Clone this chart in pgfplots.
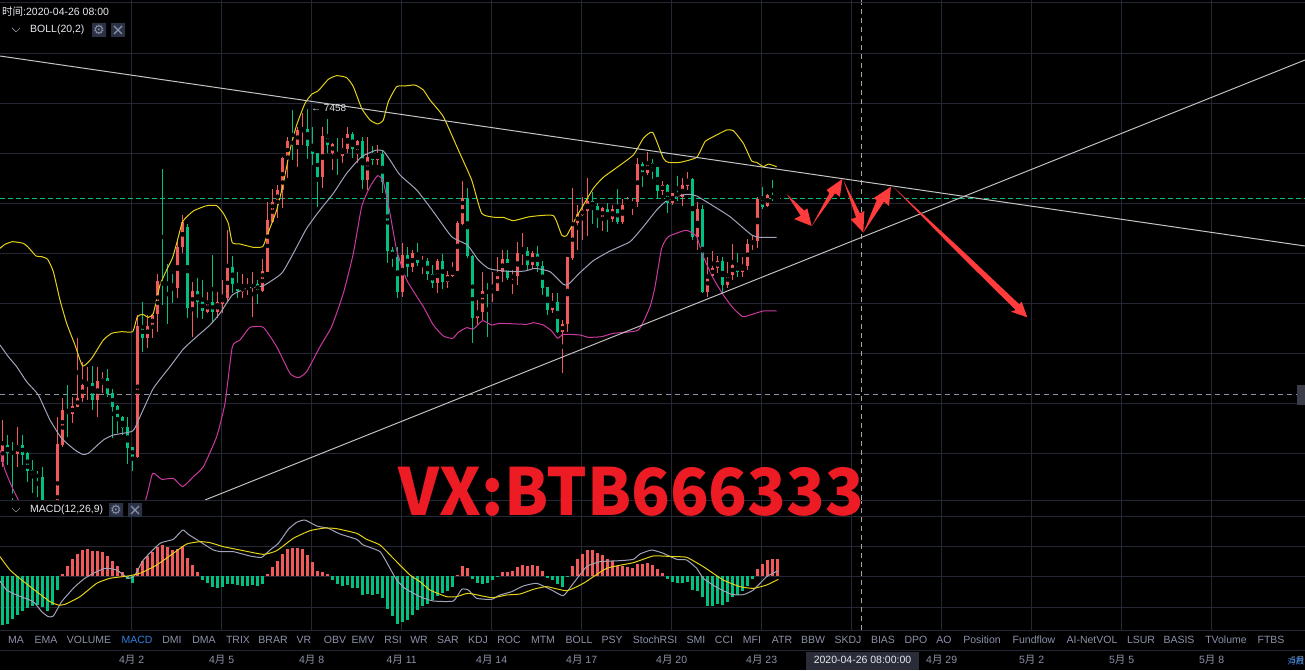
\documentclass[border=0pt]{standalone}
\usepackage{fontspec}
\setmainfont{Liberation Sans}
\newfontfamily\cjk{Noto Sans CJK SC}
\newfontfamily\sym{DejaVu Sans}
\usepackage{pgfplots}
\usepackage{pgfplotstable}
\pgfplotsset{compat=1.18}

\definecolor{gridc}{HTML}{242836}
\definecolor{upc}{HTML}{F05A5A}
\definecolor{downc}{HTML}{02C081}
\definecolor{bollup}{HTML}{E4D218}
\definecolor{bollmid}{HTML}{A0A4BA}
\definecolor{bolllow}{HTML}{C93A9E}
\definecolor{trend}{HTML}{C4C4C4}
\definecolor{arrowc}{HTML}{FF3B3B}
\definecolor{tabc}{HTML}{8C91A8}
\definecolor{btnc}{HTML}{2B3245}
\definecolor{bluec}{HTML}{2F7FE0}
\definecolor{datebox}{HTML}{2A2D38}
\definecolor{pricetag}{HTML}{3A3D48}
\definecolor{wmark}{HTML}{ED1C24}

% candles: index, wick top, wick bottom, body top, body bottom (screen units, 3 per pixel)
\pgfplotstableread{
k wt wb bt bb
0 1110 1250 1185 1235
3 1132 1250 1185 1212
11 1100 1500 1183 1500
12 1043 1190 1080 1185
14 1040 1120 1068 1092
15 865 1070 1045 1070
16 935 1055 1005 1045
17 950 1050 1000 1008
19 950 1100 993 1050
20 965 1030 985 997
27 795 1225 828 1222
29 795 895 828 863
30 795 865 795 830
31 672 845 693 792
35 570 743 590 713
36 495 610 515 592
38 695 860 723 773
41 725 790 757 787
43 727 805 757 787
44 690 790 740 762
45 540 755 652 745
48 672 745 712 725
49 683 735 710 718
50 665 800 703 713
52 627 725 663 722
53 455 665 510 665
54 418 520 455 515
55 405 505 420 460
56 320 475 325 420
57 260 385 272 328
59 230 352 240 285
60 190 285 238 243
64 232 415 258 380
66 280 360 283 308
68 263 338 295 318
69 230 310 252 298
71 270 340 272 312
73 262 420 320 390
75 285 345 312 330
80 578 742 615 725
82 600 665 610 650
84 618 673 633 638
87 628 728 633 698
89 663 713 675 695
90 635 680 660 677
91 512 663 518 663
92 393 525 445 522
95 750 825 783 803
96 665 810 723 785
98 665 755 720 728
99 622 723 665 722
100 600 695 627 667
102 660 732 675 685
103 575 705 610 677
104 550 645 603 610
106 602 658 610 645
110 728 790 755 780
112 810 970 822 847
113 620 845 622 823
114 415 630 515 623
115 465 600 492 520
116 440 570 480 495
117 385 558 453 482
120 470 542 475 505
122 465 515 478 508
124 448 522 465 517
125 440 470 462 467
126 445 495 455 465
127 325 470 342 455
129 305 375 340 368
132 392 435 405 422
134 428 465 428 460
136 385 467 405 440
137 365 420 390 407
139 455 600 477 560
141 620 740 675 725
142 602 680 653 678
143 617 670 633 653
145 637 715 673 705
146 583 690 645 675
148 620 680 645 667
149 568 660 582 648
150 555 600 570 583
151 440 593 447 572
153 433 470 435 467
}\upcandles
\pgfplotstableread{
k wt wb bt bb
1 1155 1245 1185 1210
2 1175 1500 1205 1212
4 1155 1245 1185 1215
5 1205 1295 1208 1262
6 1230 1328 1260 1275
7 1262 1340 1272 1283
8 1250 1500 1282 1500
13 1005 1160 1080 1092
18 948 1080 998 1050
21 957 1040 985 1033
22 1018 1165 1030 1070
23 1065 1150 1068 1103
24 1098 1155 1102 1135
25 1100 1243 1132 1193
26 1190 1262 1192 1222
28 755 907 828 863
32 357 765 695 705
33 643 822 697 705
34 672 760 702 712
37 522 805 530 773
39 685 805 723 755
40 690 808 753 783
42 615 820 757 787
46 618 730 652 703
47 665 745 700 723
51 690 762 703 722
58 180 330 272 285
61 178 327 238 288
62 230 345 285 312
63 308 470 310 380
65 207 310 258 285
67 265 375 305 318
70 245 325 252 298
72 262 418 272 390
74 288 345 312 330
76 300 430 312 395
77 395 640 397 602
78 590 650 600 622
79 592 743 620 725
81 590 680 615 650
83 580 647 610 638
85 625 690 633 673
86 645 715 672 698
88 612 718 633 695
93 415 625 445 618
94 615 880 617 803
97 698 860 723 728
101 600 690 627 683
105 590 660 603 645
107 587 665 612 647
108 632 735 647 713
109 710 795 712 780
111 728 850 755 847
118 425 522 453 470
119 460 535 468 505
121 460 545 478 507
123 418 522 477 515
128 335 410 342 368
130 328 388 340 353
131 350 448 352 422
133 402 490 405 458
135 378 452 428 440
138 385 570 388 560
140 465 728 478 725
144 620 730 633 705
147 608 680 645 667
152 412 478 445 470
154 390 452 435 447
155 437 450 442 445
}\downcandles

% MACD histogram: index, value
\pgfplotstableread{
k v
12 6
13 30
14 51
15 66
16 78
17 81
18 76
19 75
20 73
21 60
22 45
23 30
24 13
27 23
28 45
29 60
30 73
31 88
32 93
33 86
34 78
35 81
36 91
37 55
38 33
39 13
53 6
54 28
55 45
56 66
57 80
58 84
59 84
60 81
61 63
62 42
63 15
64 12
65 6
91 3
92 30
93 23
100 11
101 13
102 15
103 26
104 32
105 30
106 32
107 31
108 16
114 30
115 50
116 66
117 78
118 78
119 68
120 63
121 50
122 46
123 31
124 30
125 26
126 25
127 36
128 36
129 38
130 33
131 20
132 8
151 20
152 36
153 48
154 51
155 51
}\macdup
\pgfplotstableread{
k v
0 -147
1 -144
2 -130
3 -117
4 -104
5 -97
6 -89
7 -87
8 -92
9 -104
10 -87
11 -42
25 -8
26 -22
40 -12
41 -20
42 -32
43 -35
44 -34
45 -24
46 -24
47 -27
48 -30
49 -30
50 -27
51 -30
52 -24
66 -12
67 -24
68 -30
69 -27
70 -36
71 -36
72 -57
73 -54
74 -57
75 -54
76 -66
77 -99
78 -120
79 -144
80 -138
81 -132
82 -117
83 -102
84 -90
85 -84
86 -72
87 -60
88 -52
89 -44
90 -34
94 -8
95 -22
96 -24
97 -20
98 -12
99 -4
109 -5
110 -12
111 -24
112 -32
113 -4
133 -10
134 -17
135 -20
136 -20
137 -17
138 -42
139 -44
140 -62
141 -90
142 -90
143 -84
144 -87
145 -77
146 -64
147 -57
148 -44
149 -29
150 -10
}\macddown

\pgfplotsset{
  panel/.style={
    scale only axis, width=1305pt, xmin=0, xmax=3915,
    axis line style={draw=none}, major tick length=0pt,
    grid=major, grid style={gridc, line width=0.9pt},
    xtick={395,665,935,1205,1475,1745,2015,2285,2555,2825,3095,3365,3635},
    yticklabels={}, xticklabels={},
  },
  wick/.style={only marks, mark=none, forget plot,
    error bars/.cd, y dir=both, y explicit, error mark=none,
    error bar style={#1, line width=1pt}},
  body/.style={only marks, mark=none, forget plot,
    error bars/.cd, y dir=both, y explicit, error mark=none,
    error bar style={#1, line width=3.5pt}},
  bar/.style={ycomb, #1, line width=3.1pt, mark=none, forget plot},
  bline/.style={#1, line width=1pt, mark=none, line join=round, smooth, tension=0.3, forget plot},
  arrowfill/.style={fill=arrowc, draw=none, mark=none, forget plot},
}

\begin{document}
\begin{tikzpicture}[x=1pt,y=1pt]
\clip (0,0) rectangle (1305,670);
\fill[black] (0,0) rectangle (1305,670);

\begin{axis}[panel, at={(0,170pt)}, anchor=south west, height=500pt,
    y dir=reverse, ymin=-150, ymax=1350,
    ytick={10,160,310,460,610,760,910,1060,1210}]
% dashed price levels and crosshair
\addplot[downc, line width=0.9pt, dash pattern=on 5pt off 3pt, forget plot] coordinates {(0,446) (3915,446)};
\addplot[tabc, line width=0.8pt, dash pattern=on 5pt off 4pt, forget plot] coordinates {(0,1033) (3915,1033)};
\addplot[gray!70!white, line width=0.8pt, dash pattern=on 5pt off 4pt, forget plot] coordinates {(2585,-150) (2585,1350)};
% candles
\addplot[wick=upc] table[x expr=8+15*\thisrow{k}, y expr=(\thisrow{wt}+\thisrow{wb})/2, y error expr=(\thisrow{wb}-\thisrow{wt})/2] {\upcandles};
\addplot[wick=downc] table[x expr=8+15*\thisrow{k}, y expr=(\thisrow{wt}+\thisrow{wb})/2, y error expr=(\thisrow{wb}-\thisrow{wt})/2] {\downcandles};
\addplot[body=upc] table[x expr=8+15*\thisrow{k}, y expr=(\thisrow{bt}+\thisrow{bb})/2, y error expr=(\thisrow{bb}-\thisrow{bt})/2] {\upcandles};
\addplot[body=downc] table[x expr=8+15*\thisrow{k}, y expr=(\thisrow{bt}+\thisrow{bb})/2, y error expr=(\thisrow{bb}-\thisrow{bt})/2] {\downcandles};
% bollinger bands
\addplot[bline=bollup] coordinates {
(0,595) (15,583) (38,575) (70,580) (85,592) (108,618) (125,620) (143,628) (160,665) (180,750) (200,820) (225,885) (248,948) (275,925) (310,870) (335,850) (365,845) (398,845) (412,800) (428,793) (445,802) (460,790) (480,705) (500,660) (517,625) (530,580) (548,515) (580,483) (620,467) (650,467) (670,490) (685,520) (697,578) (720,582) (760,592) (788,590) (800,560) (830,480) (850,400) (870,300) (890,225) (915,160) (935,133) (955,122) (985,88) (1010,77) (1040,83) (1060,110) (1085,175) (1110,210) (1133,222) (1150,210) (1165,155) (1190,110) (1215,108) (1245,105) (1270,120) (1290,150) (1330,200) (1375,300) (1415,390) (1445,490) (1485,502) (1510,502) (1540,512) (1590,500) (1660,497) (1685,555) (1700,557) (1730,500) (1780,415) (1810,382) (1840,360) (1900,315) (1930,265) (1958,247) (1990,325) (2005,337) (2040,337) (2090,322) (2115,275) (2140,260) (2180,240) (2200,242) (2230,280) (2255,333) (2270,337) (2290,350) (2305,342) (2330,350)};
\addplot[bline=bollmid] coordinates {
(0,885) (25,920) (50,950) (80,995) (115,1035) (150,1110) (185,1165) (225,1200) (248,1213) (265,1210) (310,1170) (340,1155) (398,1143) (420,1100) (460,1015) (510,950) (550,897) (590,860) (630,825) (660,790) (697,735) (740,715) (790,707) (845,670) (880,610) (920,535) (960,480) (1000,430) (1040,370) (1085,320) (1130,300) (1150,303) (1170,330) (1200,375) (1250,420) (1300,485) (1355,560) (1402,585) (1435,630) (1465,655) (1500,662) (1550,665) (1580,662) (1605,655) (1650,665) (1690,703) (1705,703) (1740,668) (1780,632) (1830,603) (1890,575) (1930,530) (1970,480) (2000,452) (2040,437) (2065,433) (2090,438) (2140,468) (2190,500) (2255,555) (2280,562) (2330,562)};
\addplot[bline=bolllow] coordinates {
(0,1200) (15,1260) (40,1320) (60,1360) (120,1500) (380,1500) (437,1350) (458,1270) (485,1288) (520,1285) (548,1310) (580,1280) (610,1250) (650,1160) (675,1060) (697,890) (720,870) (750,832) (790,832) (830,890) (870,970) (895,983) (920,965) (960,890) (995,830) (1030,730) (1060,610) (1085,470) (1110,410) (1133,377) (1150,395) (1170,490) (1190,600) (1220,690) (1270,770) (1300,825) (1330,858) (1358,865) (1375,847) (1400,833) (1420,837) (1448,812) (1475,825) (1500,820) (1580,823) (1600,818) (1630,825) (1655,843) (1673,865) (1690,853) (1740,855) (1765,862) (1805,860) (1840,850) (1915,840) (1950,770) (1965,710) (1985,595) (2005,560) (2055,541) (2070,545) (2090,560) (2110,620) (2140,685) (2170,735) (2200,775) (2228,800) (2250,795) (2290,783) (2330,783)};
% hand drawn trend lines
\addplot[trend, line width=1pt, forget plot] coordinates {(0,18) (3915,588)};
\addplot[trend, line width=1pt, forget plot] coordinates {(615,1350) (3915,30)};
% hand drawn arrows
\addplot[arrowfill] coordinates {(2360,432) (2413,482) (2422,475) (2435,528) (2382,507) (2402,497)} -- cycle;
\addplot[arrowfill] coordinates {(2435,528) (2488,430) (2480,420) (2527,387) (2520,440) (2505,430)} -- cycle;
\addplot[arrowfill] coordinates {(2530,390) (2580,490) (2593,483) (2590,548) (2552,508) (2568,502)} -- cycle;
\addplot[arrowfill] coordinates {(2590,548) (2630,450) (2620,445) (2673,410) (2667,468) (2652,455)} -- cycle;
\addplot[arrowfill] coordinates {(2677,408) (2885,600) (3058,763) (3065,755) (3082,802) (3033,785) (3047,780) (2865,600)} -- cycle;
\end{axis}

\begin{axis}[panel, at={(0,40pt)}, anchor=south west, height=130pt,
    ymin=-162, ymax=228, ytick={-94,0,88,180},
    xticklabels={{4{\cjk 月} 2},{4{\cjk 月} 5},{4{\cjk 月} 8},{4{\cjk 月} 11},{4{\cjk 月} 14},{4{\cjk 月} 17},{4{\cjk 月} 20},{4{\cjk 月} 23},{},{4{\cjk 月} 29},{5{\cjk 月} 2},{5{\cjk 月} 5},{5{\cjk 月} 8}},
    xticklabel style={font=\fontsize{10.5}{12}\selectfont, text=tabc, yshift=-22pt}]
\addplot[gray!70!white, line width=0.8pt, dash pattern=on 5pt off 4pt, forget plot] coordinates {(2585,-162) (2585,228)};
\addplot[bar=upc] table[x expr=8+15*\thisrow{k}, y=v] {\macdup};
\addplot[bar=downc] table[x expr=8+15*\thisrow{k}, y=v] {\macddown};
\addplot[bline=bollmid] table[x=x, y expr=228-\thisrow{z}] {
x z
0 243
20 270
50 285
100 305
125 335
145 350
160 348
185 305
220 265
250 238
280 220
315 205
350 210
385 235
405 225
430 180
480 130
520 118
548 90
565 103
600 125
640 150
665 155
700 155
750 168
785 172
810 150
835 130
865 88
890 67
915 60
950 78
985 85
1020 102
1070 118
1090 135
1140 155
1170 205
1190 240
1215 265
1260 290
1300 303
1360 303
1385 268
1405 270
1430 295
1475 298
1500 285
1535 275
1570 258
1610 250
1655 270
1690 287
1720 250
1760 200
1800 185
1860 182
1900 178
1920 162
1955 150
1990 160
2030 178
2060 180
2090 205
2110 235
2150 262
2195 283
2230 284
2260 270
2300 230
2335 212
};
\addplot[bline=bollup] table[x=x, y expr=228-\thisrow{z}] {
x z
0 170
30 210
65 240
110 275
150 305
175 315
195 313
240 290
290 250
330 235
390 227
425 218
470 195
520 160
560 132
600 125
630 128
670 140
720 150
790 163
830 152
880 115
930 92
975 84
1010 86
1070 100
1100 118
1140 135
1180 175
1230 225
1260 245
1290 270
1340 290
1370 290
1405 280
1475 293
1520 285
1560 282
1600 268
1640 260
1700 272
1750 250
1820 205
1900 188
1960 168
2020 170
2060 172
2110 200
2170 240
2220 260
2260 265
2300 255
2335 238
};
\end{axis}

% frame lines
\draw[gridc, line width=0.9pt] (0,668) -- (1305,668) (0,170) -- (1305,170) (0,40) -- (1305,40) (0,20) -- (1305,20);

% tab bar
\foreach \x/\t in {16/MA,46/EMA,89/VOLUME,172/DMI,204/DMA,238/TRIX,273/BRAR,304/VR,335/OBV,363/EMV,393/RSI,419/WR,448/SAR,478/KDJ,509/ROC,543/MTM,579/BOLL,612/PSY,655/StochRSI,696/SMI,724/CCI,752/MFI,782/ATR,813/BBW,848/SKDJ,883/BIAS,916/DPO,944/AO,982/Position,1034/Fundflow,1092/AI-NetVOL,1141/LSUR,1179/BASIS,1226/TVolume,1271/FTBS}
  \node[text=tabc, font=\fontsize{10.5}{12}\selectfont, inner sep=0pt] at (\x,30.5) {\t};
\node[text=bluec, font=\fontsize{10.5}{12}\selectfont, inner sep=0pt] at (137,30.5) {MACD};

% crosshair date and right edge tags
\fill[datebox] (806,0) rectangle (919,18);
\node[text=white!80!tabc, font=\fontsize{10.5}{12}\selectfont, inner sep=0pt] at (862.5,10) {2020-04-26 08:00:00};
\node[text=tabc, font=\fontsize{9}{12}\selectfont\cjk, inner sep=0pt, anchor=east] at (1305,10) {5月};
\node[text=bluec, font=\fontsize{8.5}{12}\selectfont\cjk, inner sep=0pt, anchor=east] at (1304.5,9) {对数};
\fill[pricetag] (1297,265) rectangle (1305,285);

% legend labels
\node[text=white!80!tabc, font=\fontsize{10.5}{12}\selectfont, inner sep=0pt, anchor=west] at (2,658) {{\cjk 时间}:2020-04-26 08:00};
\draw[tabc, line width=0.7pt] (12,642) -- (16,638) -- (20,642);
\node[text=white!80!tabc, font=\fontsize{10.5}{12}\selectfont, inner sep=0pt, anchor=west] at (30,640) {BOLL(20,2)};
\fill[btnc] (92,633) rectangle (106,647) (111,633) rectangle (125,647);
\node[text=tabc, font=\fontsize{13}{13}\selectfont\sym, inner sep=0pt] at (99,640) {⚙};
\draw[tabc, line width=1.3pt] (114,636) -- (122,644) (114,644) -- (122,636);
\draw[tabc, line width=0.7pt] (12,162) -- (16,158) -- (20,162);
\node[text=white!80!tabc, font=\fontsize{10.5}{12}\selectfont, inner sep=0pt, anchor=west] at (30,160) {MACD(12,26,9)};
\fill[btnc] (109,153) rectangle (123,167) (128,153) rectangle (142,167);
\node[text=tabc, font=\fontsize{13}{13}\selectfont\sym, inner sep=0pt] at (116,160) {⚙};
\draw[tabc, line width=1.3pt] (131,156) -- (139,164) (131,164) -- (139,156);
\node[text=white!75!tabc, font=\fontsize{10}{12}\selectfont, inner sep=0pt, anchor=west] at (311,562) {← 7458};

% watermark
\node[text=wmark, font=\fontsize{65}{65}\selectfont\cjk\bfseries, inner sep=0pt, xscale=0.98] at (631.5,178) {VX:BTB666333};
\end{tikzpicture}
\end{document}
